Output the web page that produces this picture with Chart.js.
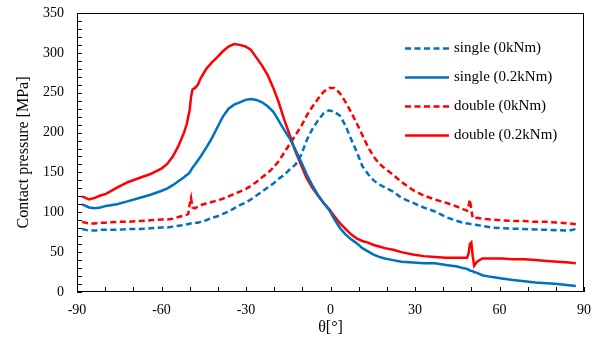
<!DOCTYPE html>
<html>
<head>
<meta charset="utf-8">
<script src="https://cdn.jsdelivr.net/npm/chart.js@4.4.1/dist/chart.umd.min.js"></script>
<style>
  html, body { margin: 0; padding: 0; background: #fff; }
  #wrap { width: 603px; height: 347px; }
</style>
</head>
<body>
<div id="wrap"><canvas id="pressure-chart" width="603" height="347"></canvas></div>
<script>
// angle [deg] and contact pressure [MPa]
const theta = [-88.2, -85.7, -83.7, -81.7, -79.7, -75.8, -71.8, -67.9, -63.9, -59.9, -57.9, -56, -54, -52, -51, -50.5, -50, -49.5, -49, -48.1,
  -47.1, -46.1, -44.1, -42.1, -40.1, -38.2, -36.2, -34.2, -32.2, -30.2, -28.3, -26.3, -24.3, -22.3, -20.3, -18.4, -16.4, -14.4, -12.4, -10.4,
  -8.5, -6.5, -4.5, -2.5, -0.5, 1.4, 3.4, 5.4, 7.4, 9.4, 11.3, 13.3, 15.3, 17.3, 19.3, 22.2, 25.2, 29.2, 33.1, 37.1,
  41, 45, 47, 48.5, 49, 49.5, 50, 50.5, 51, 52, 53.9, 56.9, 60.8, 64.8, 68.8, 72.7, 76.7, 80.7, 84.6, 87.1]

const single_0 = [79, 77, 77, 78, 78, 78, 79, 79, 80, 81, 81, 82, 83, 84, 85, 85, 86, 86, 86, 87,
  87, 88, 90, 93, 95, 98, 101, 105, 109, 112, 116, 121, 126, 131, 136, 142, 147, 154, 160, 172,
  190, 204, 215, 224, 228, 226, 221, 208, 191, 175, 158, 148, 140, 135, 131, 126, 118, 112, 106, 101,
  94, 89, 87, 86, 86, 85.5, 85, 85, 84.5, 84, 83, 81, 80, 79.5, 79, 78.5, 78, 77.5, 77, 79]

const single_02 = [110, 106, 105, 106, 108, 110, 114, 118, 122, 127, 130, 134, 139, 144, 147, 148, 150, 153, 156, 160,
  165, 170, 181, 193, 207, 220, 230, 235, 238, 241, 242, 241, 238, 233, 226, 215, 203, 192, 178, 163,
  148, 134, 122, 112, 103, 91, 80, 72, 66, 61, 55, 51, 47, 44, 42, 40, 38, 37, 36, 36,
  34, 32, 30, 29, 28, 27, 26.5, 26, 25, 24, 21, 19, 17, 15, 13.5, 12, 11, 10, 8.5, 7.5]

const double_0 = [88, 86, 86, 87, 87, 88, 88, 89, 90, 91, 91, 92, 94, 96, 97, 98, 110, 118, 106, 105,
  107, 109, 111, 113, 115, 117, 120, 123, 126, 129, 133, 138, 144, 149, 156, 164, 175, 186, 197, 208,
  221, 232, 242, 251, 256, 256, 249, 238, 225, 211, 197, 182, 170, 161, 155, 147, 138, 128, 121, 116,
  112, 107, 104, 102, 108, 116, 103, 93, 92, 93, 92, 91, 90, 89, 89, 88, 88, 87, 86, 85]

const double_02 = [120, 116, 118, 121, 123, 131, 138, 143, 148, 155, 161, 170, 183, 200, 211, 220, 228, 245, 254, 256,
  260, 268, 280, 288, 295, 302, 308, 311, 310, 308, 304, 294, 284, 272, 256, 238, 216, 196, 176, 159,
  143, 131, 121, 112, 104, 95, 86, 79, 72, 67, 64, 62, 59, 57, 55, 53, 50, 47, 45, 44,
  43, 43, 43, 43, 48, 60, 62, 45, 33, 38, 42, 42, 42, 41, 41, 40, 39, 38, 37, 36]

const series_labels = ['single (0kNm)', 'single (0.2kNm)', 'double (0kNm)', 'double (0.2kNm)']

const blue = '#0070C0', red = '#FF0000', serif = "'Liberation Serif', 'Times New Roman', serif"

const to_points = values => theta.map((t, i) => ({x: t, y: values[i]}))

const make_set = (label, values, color, dashed) => ({
  label,
  data: to_points(values),
  borderColor: color,
  borderWidth: 2.5,
  borderDash: dashed ? [6, 3.5] : [],
  pointRadius: 0,
  tension: 0,
  fill: false
})

// frame, inward tick marks and the legend inside the plot
const frame_plugin = {
  id: 'frame',
  afterDraw(chart) {
    const {ctx, chartArea: a, scales: {x, y}} = chart
    ctx.save()
    ctx.strokeStyle = '#000'
    ctx.lineWidth = 1
    ctx.strokeRect(Math.round(a.left) + 0.5, Math.round(a.top) + 0.5,
      Math.round(a.right - a.left) - 1, Math.round(a.bottom - a.top) - 1)

    ctx.beginPath()
    for (let v = -90; v <= 90; v += 10) {
      const px = Math.round(x.getPixelForValue(v)) + 0.5
      ctx.moveTo(px, a.bottom)
      ctx.lineTo(px, a.bottom - 5)
    }
    for (let v = 0; v <= 350; v += 10) {
      const py = Math.round(y.getPixelForValue(v)) + 0.5
      ctx.moveTo(a.left, py)
      ctx.lineTo(a.left + 5, py)
    }
    ctx.stroke()

    ctx.font = '15px ' + serif
    ctx.textBaseline = 'middle'
    ctx.fillStyle = '#000'
    chart.data.datasets.forEach((ds, i) => {
      const ly = a.top + 35.5 + i * 29
      ctx.beginPath()
      ctx.strokeStyle = ds.borderColor
      ctx.lineWidth = 2.5
      ctx.setLineDash(ds.borderDash)
      ctx.moveTo(a.right - 179, ly)
      ctx.lineTo(a.right - 135, ly)
      ctx.stroke()
      ctx.setLineDash([])
      ctx.fillText(ds.label, a.right - 130, ly)
    })
    ctx.restore()
  }
}

window.addEventListener('DOMContentLoaded', () => {
  const canvas = document.getElementById('pressure-chart')

  new Chart(canvas.getContext('2d'), {
    type: 'line',
    data: {
      datasets: [
        make_set(series_labels[0], single_0, blue, true),
        make_set(series_labels[1], single_02, blue, false),
        make_set(series_labels[2], double_0, red, true),
        make_set(series_labels[3], double_02, red, false)
      ]
    },
    options: {
      responsive: false,
      animation: false,
      layout: {
        autoPadding: false,
        padding: {left: 0, right: 19, top: 13, bottom: 0}
      },
      plugins: {
        legend: {display: false},
        tooltip: {enabled: false}
      },
      scales: {
        x: {
          type: 'linear',
          min: -90,
          max: 90,
          afterFit: scale => { scale.height = 55 },
          grid: {display: false, drawTicks: false},
          border: {display: false},
          ticks: {
            stepSize: 30,
            padding: 10,
            color: '#000',
            font: {family: serif, size: 14}
          },
          title: {
            display: true,
            text: 'θ[°]',
            color: '#000',
            padding: {top: 0, bottom: 10},
            font: {family: serif, size: 16}
          }
        },
        y: {
          min: 0,
          max: 350,
          afterFit: scale => {
            scale.width = 77
            scale.paddingTop = 0
            scale.paddingBottom = 0
          },
          grid: {display: false, drawTicks: false},
          border: {display: false},
          ticks: {
            stepSize: 50,
            padding: 13,
            color: '#000',
            font: {family: serif, size: 14}
          },
          title: {
            display: true,
            text: 'Contact pressure [MPa]',
            color: '#000',
            padding: {top: 14, bottom: 0},
            font: {family: serif, size: 16}
          }
        }
      }
    },
    plugins: [frame_plugin]
  })
})
</script>
</body>
</html>
